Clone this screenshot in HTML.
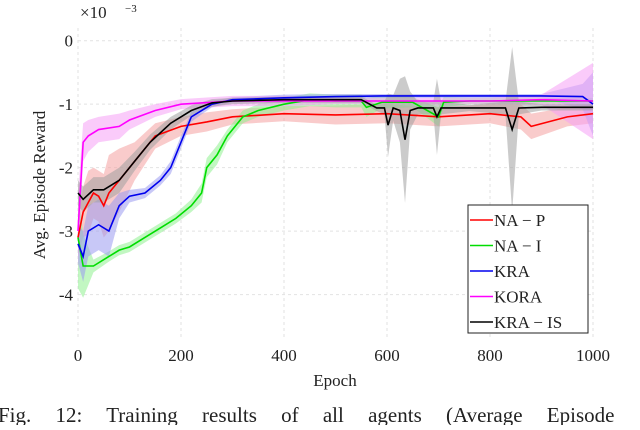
<!DOCTYPE html>
<html><head><meta charset="utf-8"><style>
body{margin:0;background:#fff;width:640px;height:425px;overflow:hidden;font-family:"Liberation Serif",serif;}
svg text{font-family:"Liberation Serif",serif;fill:#222;}
</style></head><body>
<svg id="chart" width="640" height="425" viewBox="0 0 640 425" xmlns="http://www.w3.org/2000/svg"></svg>
<script>
// ---- data ----
const xTicks=[0,200,400,600,800,1000];
const yTicks=[0,-1,-2,-3,-4];
const yTickLabels=["0","-1","-2","-3","-4"];
const seriesNames=["NA − P","NA − I","KRA","KORA","KRA − IS"];
const seriesColors=["#ff0000","#00dd00","#0000ee","#ff00ff","#000000"];
const bandColors=["#f4a0a0","#90f090","#9a9af0","#f5a0f5","#a0a0a0"];
const naPEpochs=[0,10,20,30,40,50,60,80,110,150,200,250,300,400,500,600,700,800,860,880,950,1000];
const naPMeans=[-3.1,-2.7,-2.55,-2.4,-2.45,-2.6,-2.4,-2.2,-1.9,-1.5,-1.35,-1.28,-1.2,-1.15,-1.17,-1.15,-1.2,-1.15,-1.2,-1.35,-1.2,-1.15];
const naPWidth=[0.3,0.4,0.5,0.4,0.4,0.5,0.6,0.5,0.3,0.2,0.15,0.15,0.12,0.12,0.15,0.15,0.15,0.15,0.2,0.2,0.15,0.15];
const naIEpochs=[0,10,30,60,80,100,130,160,190,220,240,250,270,290,320,350,400,450,500,550,560,590,650,700,710,760,900,1000];
const naIMeans=[-3.1,-3.55,-3.55,-3.4,-3.3,-3.25,-3.1,-2.95,-2.8,-2.6,-2.4,-2.0,-1.8,-1.5,-1.2,-1.1,-1.0,-0.93,-0.95,-0.95,-1.05,-0.97,-0.97,-1.2,-0.97,-0.95,-0.95,-0.95];
const naIWidth=[0.8,0.5,0.1,0.08,0.08,0.08,0.08,0.08,0.08,0.1,0.15,0.15,0.15,0.1,0.1,0.1,0.1,0.1,0.1,0.1,0.15,0.1,0.08,0.15,0.08,0.05,0.05,0.05];
const kraEpochs=[0,10,20,40,60,80,100,130,160,180,200,220,240,260,300,400,500,600,700,800,900,980,1000];
const kraMeans=[-3.2,-3.4,-3.0,-2.9,-3.0,-2.6,-2.45,-2.4,-2.2,-2.0,-1.6,-1.2,-1.1,-1.0,-0.93,-0.9,-0.88,-0.87,-0.87,-0.87,-0.87,-0.88,-1.0];
const kraWidth=[0.3,0.4,0.4,0.4,0.4,0.2,0.1,0.08,0.08,0.1,0.1,0.08,0.06,0.05,0.04,0.05,0.04,0.03,0.03,0.03,0.03,0.2,0.5];
const koraEpochs=[0,10,20,40,80,100,150,200,300,400,500,600,700,800,900,1000];
const koraMeans=[-3.0,-1.6,-1.5,-1.4,-1.35,-1.25,-1.1,-1.0,-0.95,-0.95,-0.95,-0.95,-0.95,-0.95,-0.93,-0.95];
const koraWidth=[0.6,0.3,0.25,0.2,0.2,0.15,0.1,0.08,0.08,0.08,0.05,0.05,0.05,0.05,0.08,0.6];
const kraIsEpochs=[0,10,30,50,80,110,140,180,220,260,300,400,550,580,595,602,612,625,635,645,660,690,697,705,760,830,843,856,900,1000];
const kraIsMeans=[-2.4,-2.5,-2.35,-2.35,-2.2,-1.9,-1.6,-1.3,-1.1,-0.98,-0.95,-0.93,-0.93,-1.06,-1.06,-1.33,-1.06,-1.1,-1.56,-1.1,-1.06,-1.06,-1.2,-1.06,-1.06,-1.06,-1.4,-1.06,-1.05,-1.05];
const kraIsWidth=[0.2,0.2,0.2,0.2,0.2,0.15,0.12,0.1,0.08,0.06,0.05,0.05,0.05,0.05,0.1,0.5,0.2,0.5,1.0,0.3,0.1,0.1,0.6,0.1,0.05,0.1,1.3,0.1,0.05,0.05];
const allEpochs=[naPEpochs,naIEpochs,kraEpochs,koraEpochs,kraIsEpochs];
const allMeans=[naPMeans,naIMeans,kraMeans,koraMeans,kraIsMeans];
const allWidth=[naPWidth,naIWidth,kraWidth,koraWidth,kraIsWidth];
// ---- axes ----
const X0=78,X1=593,YTOP=28,YBOT=339,VMAX=0.2,VMIN=-4.7;
const xs=e=>X0+(e/1000)*(X1-X0);
const ys=v=>YTOP+(VMAX-v)/(VMAX-VMIN)*(YBOT-YTOP);
const NS="http://www.w3.org/2000/svg";
const svg=document.getElementById('chart');
function mk(tag,attrs,txt){const el=document.createElementNS(NS,tag);for(const k in attrs)el.setAttribute(k,attrs[k]);if(txt!==undefined)el.textContent=txt;svg.appendChild(el);return el;}
// grid
xTicks.forEach(t=>{const g=mk('line',{x1:xs(t),x2:xs(t),y1:YTOP,y2:YBOT,stroke:'#e2e2e2','stroke-dasharray':'3,3'});


const l=mk('text',{x:xs(t),y:361,'text-anchor':'middle','font-size':'17'},String(t));

});
yTicks.forEach((t,i)=>{const g=mk('line',{x1:X0,x2:X1,y1:ys(t),y2:ys(t),stroke:'#e2e2e2','stroke-dasharray':'3,3'});


const l=mk('text',{x:73,y:ys(t)+6,'text-anchor':'end','font-size':'17'},yTickLabels[i]);

});
// bands
allEpochs.forEach((ep,s)=>{const m=allMeans[s],w=allWidth[s];
let pts=ep.map((e,i)=>xs(e)+','+ys(m[i]+w[i]));
pts=pts.concat(ep.map((e,i)=>xs(e)+','+ys(m[i]-w[i])).reverse());
const p=mk('polygon',{points:pts.join(' '),fill:bandColors[s],opacity:0.55});

});
// lines
allEpochs.forEach((ep,s)=>{const m=allMeans[s];
const p=mk('polyline',{points:ep.map((e,i)=>xs(e)+','+ys(m[i])).join(' '),fill:'none',stroke:seriesColors[s],'stroke-width':1.6});

});
// exponent & labels
const ex=mk('text',{x:80,y:18,'font-size':'17'},'×10');


const ex2=mk('text',{x:125,y:12,'font-size':'11'},'−3');


const yl=mk('text',{x:0,y:0,'font-size':'17','text-anchor':'middle',transform:'translate(45,185) rotate(-90)'},'Avg. Episode Reward');


const xl=mk('text',{x:335,y:386,'font-size':'17','text-anchor':'middle'},'Epoch');


const cap=mk('text',{x:-2,y:422,'font-size':'21','word-spacing':'19'},'Fig. 12: Training results of all agents (Average Episode');


// legend
const lb=mk('rect',{x:468,y:205,width:120,height:128,fill:'#fff',stroke:'#222','stroke-width':1});


seriesNames.forEach((n,i)=>{const y=220+i*25.5;
const ln=mk('line',{x1:470,x2:493,y1:y,y2:y,stroke:seriesColors[i],'stroke-width':1.6});


const t=mk('text',{x:494,y:y+6,'font-size':'17'},n);

});
</script>
</body></html>
